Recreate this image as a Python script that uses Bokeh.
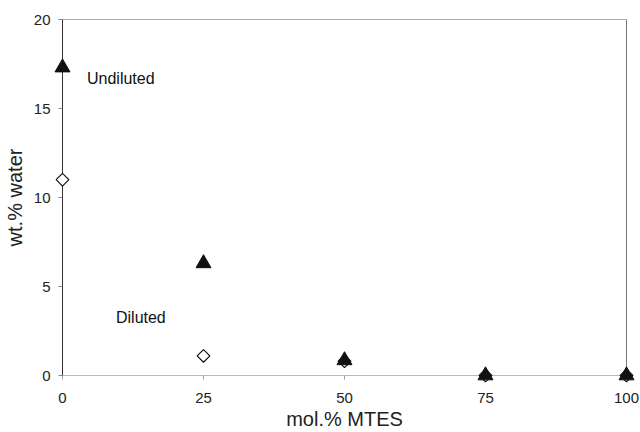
import math
from bokeh.plotting import figure
from bokeh.models import Span, Label, Range1d, FixedTicker
from bokeh.embed import file_html
from bokeh.resources import INLINE

mtes = [0, 25, 50, 75, 100]
undiluted = [17.3, 6.3, 0.85, 0.0, 0.0]
diluted = [11.0, 1.1, 0.8, 0.0, 0.0]
x_ticks = [0, 25, 50, 75, 100]
y_ticks = [0, 5, 10, 15, 20]

p = figure(width=640, height=432, output_backend="svg", toolbar_location=None,
           x_range=Range1d(0, 100), y_range=Range1d(0, 20),
           min_border_left=62, min_border_right=14, min_border_top=19, min_border_bottom=55)
p.grid.visible = False
p.outline_line_color = "#aaaaaa"
p.background_fill_color = "white"

FONT = "Liberation Sans"
p.xaxis.ticker = FixedTicker(ticks=x_ticks)
p.yaxis.ticker = FixedTicker(ticks=y_ticks)
p.xaxis.axis_label = "mol.% MTES"
p.yaxis.axis_label = "wt.% water"
for ax in (p.xaxis[0], p.yaxis[0]):
    ax.axis_label_text_font = FONT
    ax.axis_label_text_font_style = "normal"
    ax.axis_label_text_font_size = "20px"
    ax.axis_label_text_color = "#222222"
    ax.major_label_text_font = FONT
    ax.major_label_text_font_size = "15px"
    ax.major_label_text_color = "#222222"
    ax.minor_tick_line_color = None
    ax.major_tick_in = 0
    ax.major_tick_out = 4
ax = p.xaxis[0]
ax.axis_line_color = "#bbbbbb"
ax.major_tick_line_color = "#999999"
ax.major_label_standoff = 13
ax.axis_label_standoff = 2
ay = p.yaxis[0]
ay.axis_line_color = "#333333"
ay.major_tick_line_color = "#888888"
ay.major_label_standoff = 8
ay.axis_label_standoff = 5

p.add_layout(Span(location=100, dimension="height", line_color="#444444", line_width=1))

r1 = p.scatter(mtes, diluted, marker="square", size=9, angle=math.pi / 4,
               fill_color="white", line_color="#111111", line_width=1.2, level="overlay")
r2 = p.scatter(mtes, undiluted, marker="triangle", size=15,
               fill_color="#111111", line_color="#111111", level="overlay")

p.add_layout(Label(x=4.34, y=16.7, text="Undiluted", text_font=FONT, text_font_size="16px",
                   text_color="#111111", text_baseline="middle"))
p.add_layout(Label(x=9.48, y=3.24, text="Diluted", text_font=FONT, text_font_size="16px",
                   text_color="#111111", text_baseline="middle"))

open("out.html", "w").write(file_html(p, INLINE))
